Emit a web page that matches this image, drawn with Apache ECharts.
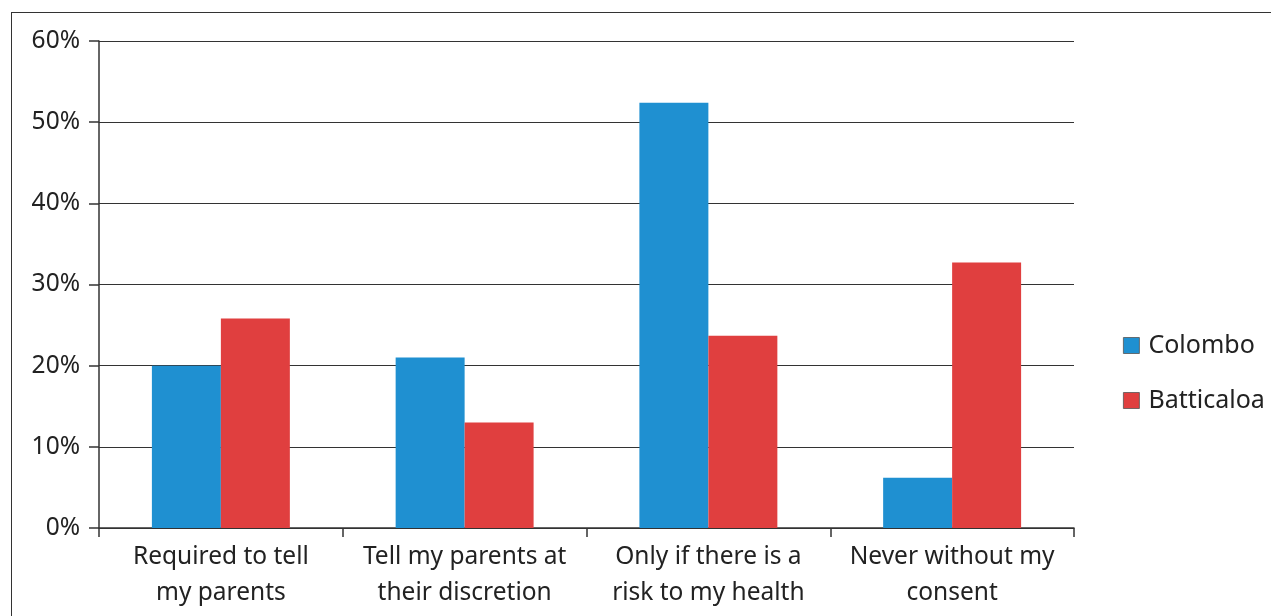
<!DOCTYPE html>
<html><head><meta charset="utf-8">
<script src="https://cdn.jsdelivr.net/npm/echarts@6/dist/echarts.min.js"></script>
<style>
html,body{margin:0;padding:0;background:#fff;}
#frame{position:absolute;left:11px;top:12px;width:1260px;height:604px;border-left:1.5px solid #333;border-top:1.5px solid #333;box-sizing:border-box;}
#c{position:absolute;left:0;top:0;width:1271px;height:616px;}
</style></head>
<body>
<div id="frame"></div>
<div id="c"></div>
<script>
const categories = ["Required to tell\nmy parents","Tell my parents at\ntheir discretion","Only if there is a\nrisk to my health","Never without my\nconsent"];
const colombo = [20.0, 21.0, 52.4, 6.2];
const batticaloa = [25.8, 13.0, 23.7, 32.7];
const yTicks = [0,10,20,30,40,50,60];

const chart = echarts.init(document.getElementById('c'));
const font = "'Noto Sans', 'Open Sans', sans-serif";
chart.setOption({
  animation:false,
  textStyle:{fontFamily:font},
  grid:{left:99, right:197, top:41, bottom:88},
  legend:{
    orient:'vertical', left:1123, top:333, padding:0, itemWidth:16, itemHeight:16, itemGap:30,
    icon:'rect',
    textStyle:{fontSize:25, color:'#222', fontFamily:font, padding:[0,0,0,4]},
    data:[{name:'Colombo', itemStyle:{borderColor:'#555',borderWidth:0.8}},{name:'Batticaloa', itemStyle:{borderColor:'#555',borderWidth:0.8}}]
  },
  xAxis:{
    type:'category', data:categories,
    axisLine:{lineStyle:{color:'#333',width:1.5}},
    axisTick:{show:true, length:9, alignWithLabel:false, lineStyle:{color:'#333',width:1.5}},
    axisLabel:{fontSize:24.5, color:'#222', lineHeight:36, margin:11, fontFamily:font, interval:0}
  },
  yAxis:{
    type:'value', min:yTicks[0], max:yTicks[yTicks.length-1], interval:10,
    axisLine:{show:true, lineStyle:{color:'#333',width:1.5}},
    axisTick:{show:true, length:10, lineStyle:{color:'#333',width:1.5}},
    splitLine:{show:true, lineStyle:{color:'#333',width:1.2}},
    axisLabel:{fontSize:24.5, color:'#222', margin:19, fontFamily:font, formatter:v=>v+'%'}
  },
  series:[
    {name:'Colombo', type:'bar', data:colombo, barWidth:'28.3%', barGap:'0%', barCategoryGap:'43%',
     itemStyle:{color:'#1f90d1'}},
    {name:'Batticaloa', type:'bar', data:batticaloa, barWidth:'28.3%', barGap:'0%',
     itemStyle:{color:'#e03f3f'}}
  ]
});
</script>
</body></html>
